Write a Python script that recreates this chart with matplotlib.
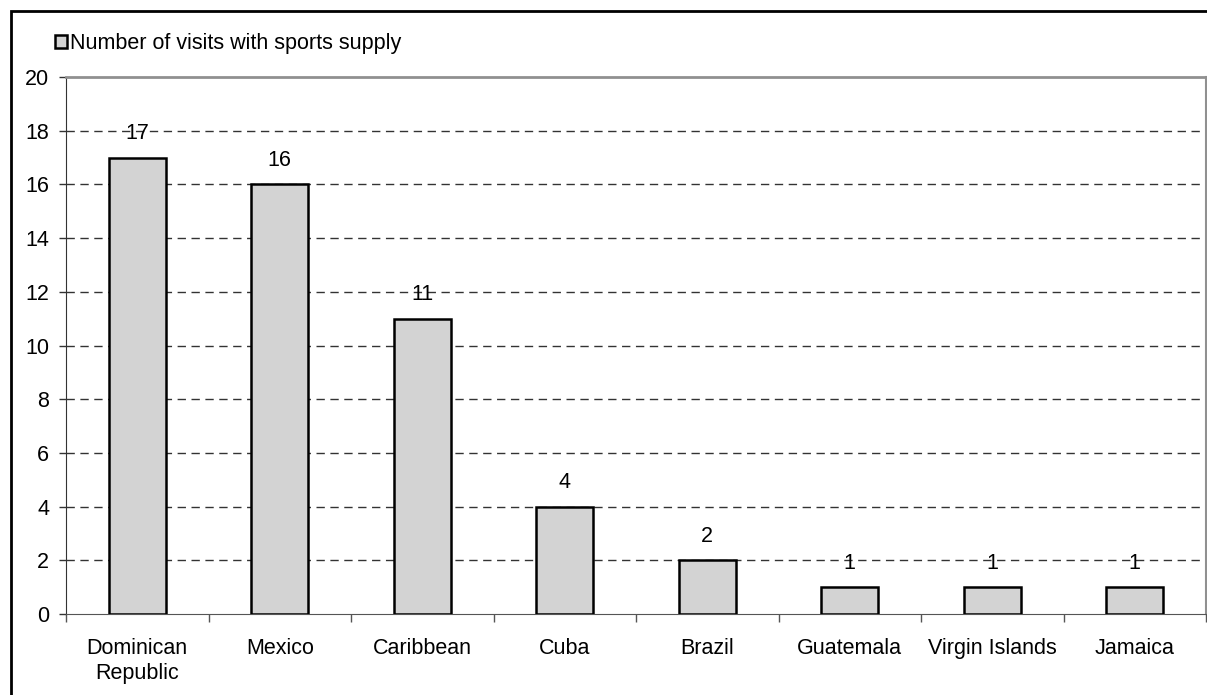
import matplotlib.pyplot as plt
from matplotlib.patches import Rectangle

plt.rcParams['font.family'] = ['Liberation Sans', 'DejaVu Sans']

countries = ["Dominican\nRepublic", "Mexico", "Caribbean", "Cuba", "Brazil",
             "Guatemala", "Virgin Islands", "Jamaica"]
visits = [17, 16, 11, 4, 2, 1, 1, 1]
series_name = "Number of visits with sports supply"
fs = 15.5

fig = plt.figure(figsize=(12.07, 6.95), dpi=100)
ax = fig.add_axes([66/1207, 1-614/695, 1140/1207, 537/695])

# outer frame of the chart area (runs off the right/bottom edge)
fig.patches.append(Rectangle((11/1207, -0.05), 1.2, 1 - 11/695 + 0.05,
                             transform=fig.transFigure, fill=False,
                             edgecolor='black', lw=2))

pos = list(range(len(countries)))
bars = ax.bar(pos, visits, width=0.4, color='#d3d3d3', edgecolor='black',
              linewidth=1.8, zorder=3, label=series_name)

for x, v in zip(pos, visits):
    ax.annotate(str(v), (x, v), xytext=(0, 9.5), textcoords='offset points',
                ha='center', va='bottom', fontsize=fs, zorder=4)

ax.set_xlim(-0.5, len(countries) - 0.5)
ax.set_ylim(0, 20)
ax.set_yticks(range(0, 21, 2))
ax.tick_params(axis='y', labelsize=fs, length=5, width=1, color='#333333', pad=7)

ax.set_xticks(pos)
ax.set_xticklabels(countries, fontsize=fs, linespacing=1.25)
ax.tick_params(axis='x', length=0, pad=17)
ax.set_xticks([p + 0.5 for p in [-1] + pos], minor=True)
ax.tick_params(axis='x', which='minor', length=6, width=1, color='#555555')

for y in range(2, 20, 2):
    ax.axhline(y, color='#333333', lw=1, ls=(0, (6, 4)), zorder=1)

ax.spines['left'].set_color('#333333')
ax.spines['bottom'].set_color('#555555')
ax.spines['top'].set_color('#909090')
ax.spines['top'].set_linewidth(2)
ax.spines['right'].set_color('#909090')
ax.spines['right'].set_linewidth(1.5)

leg = fig.legend(handles=[bars], labels=[series_name], loc='center left',
                 bbox_to_anchor=(55/1207, 1-44/695), frameon=False,
                 fontsize=fs, handlelength=0.55, handleheight=0.55,
                 handletextpad=0.15, borderaxespad=0, borderpad=0)

fig.savefig('out.png', dpi=100)
